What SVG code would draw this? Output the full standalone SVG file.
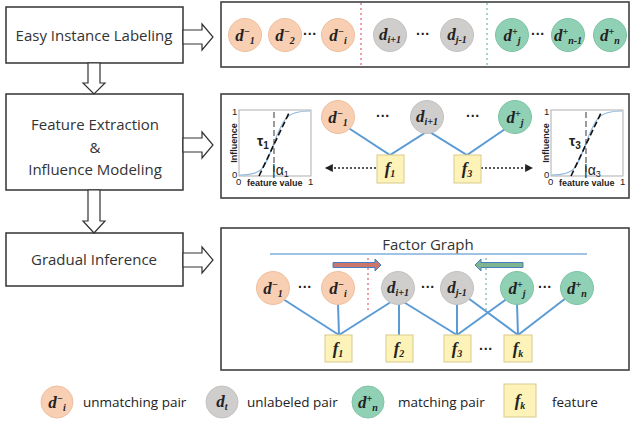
<svg xmlns="http://www.w3.org/2000/svg" width="633" height="424" viewBox="0 0 633 424">
<style>
.box{fill:#fff;stroke:#333;stroke-width:1.5}
.panel{fill:#fff;stroke:#404040;stroke-width:1.6}
.harrow{fill:#fff;stroke:#333;stroke-width:1.2}
.lbl{font-family:"Open Sans","Liberation Sans",sans-serif;font-size:15px;fill:#333}
.leg{font-family:"Open Sans","Liberation Sans",sans-serif;font-size:13.5px;fill:#222}
.neg{fill:#F8CFB2;stroke:#EFC0A0;stroke-width:1}
.unl{fill:#D0CECC;stroke:#C4C2C0;stroke-width:1}
.pos{fill:#90D1B5;stroke:#7FC3A5;stroke-width:1}
.fac{fill:#FDF2B8;stroke:#D9CB8C;stroke-width:1}
.m{font-family:"Liberation Serif","DejaVu Serif",serif;font-weight:bold;font-style:italic;font-size:17px;fill:#222;text-anchor:middle}
.s{font-size:10px}
.dots{font-family:"Liberation Sans",sans-serif;font-size:14px;font-weight:bold;fill:#222;text-anchor:middle}
.edge{stroke:#5B9BD5;stroke-width:2;fill:none}
.ax{font-family:"Liberation Sans",sans-serif;font-size:9px;font-weight:bold;fill:#222}
.axn{font-family:"Liberation Sans",sans-serif;font-size:9.5px;fill:#222}
.gk{font-family:"Liberation Sans",sans-serif;font-size:14px;fill:#222}
</style>
<defs>
<marker id="ah" viewBox="0 0 8 8" refX="7" refY="4" markerWidth="6" markerHeight="6" orient="auto"><path d="M0,0 L8,4 L0,8 z" fill="#222"/></marker>
<g id="chart">
<rect x="239" y="110" width="72" height="66" fill="#fff" stroke="#999" stroke-width="0.8"/>
<path d="M240,175 C262,175 264,170 274,143 C284,116 288,111 310,111" fill="none" stroke="#8DB8E0" stroke-width="1.2"/>
<line x1="274" y1="112" x2="274" y2="172" stroke="#666" stroke-width="1.3" stroke-dasharray="6,3"/>
<line x1="259" y1="176" x2="289" y2="113" stroke="#111" stroke-width="1.6" stroke-dasharray="6,3"/>
<text class="axn" x="232" y="115">1</text>
<text class="axn" x="232" y="178">0</text>
<text class="axn" x="236" y="185">0</text>
<text class="ax" x="247" y="186">feature value</text>
<text class="axn" x="308" y="185">1</text>
<text class="ax" transform="translate(237,143) rotate(-90)" text-anchor="middle">Influence</text>
</g>
</defs>

<!-- Left stage boxes -->
<g id="stage1">
<rect class="box" x="6" y="7" width="177" height="56"/>
<text class="lbl" x="94" y="41" text-anchor="middle">Easy Instance Labeling</text>
</g>
<g id="stage2">
<rect class="box" x="6" y="94" width="177" height="96"/>
<text class="lbl" x="95" y="130" text-anchor="middle">Feature Extraction</text>
<text class="lbl" x="95" y="153" text-anchor="middle">&amp;</text>
<text class="lbl" x="95" y="175" text-anchor="middle">Influence Modeling</text>
</g>
<g id="stage3">
<rect class="box" x="6" y="233" width="177" height="53"/>
<text class="lbl" x="94" y="265" text-anchor="middle">Gradual Inference</text>
</g>

<!-- hollow block arrows -->
<g id="stage-arrows">
<polygon class="harrow" points="183,30 202,30 202,24 213,37 202,50 202,44 183,44"/>
<polygon class="harrow" points="183,138 202,138 202,132 213,145 202,158 202,152 183,152"/>
<polygon class="harrow" points="183,253 202,253 202,247 213,260 202,273 202,267 183,267"/>
<polygon class="harrow" points="88,63 100,63 100,83 105,83 94,94 83,83 88,83"/>
<polygon class="harrow" points="88,190 100,190 100,221 105,221 94,233 83,221 88,221"/>
</g>

<!-- Panel 1 -->
<g id="panel1">
<rect class="panel" x="221" y="2" width="408" height="65"/>
<line x1="361" y1="3" x2="361" y2="66" stroke="#E06070" stroke-width="1.2" stroke-dasharray="2,3"/>
<line x1="487" y1="3" x2="487" y2="66" stroke="#6DBB90" stroke-width="1.2" stroke-dasharray="2,3"/>
<g id="p1-dneg1"><circle class="neg" cx="245" cy="35" r="16.5"/><text class="m" x="245" y="41">d<tspan class="s" dy="-6">−</tspan><tspan class="s" dy="9">1</tspan></text></g>
<g id="p1-dneg2"><circle class="neg" cx="285" cy="35" r="16.5"/><text class="m" x="285" y="41">d<tspan class="s" dy="-6">−</tspan><tspan class="s" dy="9">2</tspan></text></g>
<text class="dots" x="310" y="39">···</text>
<g id="p1-dnegi"><circle class="neg" cx="338" cy="35" r="16.5"/><text class="m" x="338" y="41">d<tspan class="s" dy="-6">−</tspan><tspan class="s" dy="9">i</tspan></text></g>
<g id="p1-di1"><circle class="unl" cx="390" cy="35" r="16.5"/><text class="m" x="390" y="40">d<tspan class="s" dy="3">i+1</tspan></text></g>
<text class="dots" x="423" y="39">···</text>
<g id="p1-dj1"><circle class="unl" cx="457" cy="35" r="16.5"/><text class="m" x="457" y="40">d<tspan class="s" dy="3">j-1</tspan></text></g>
<g id="p1-dposj"><circle class="pos" cx="512" cy="35" r="16.5"/><text class="m" x="512" y="41">d<tspan class="s" dy="-6">+</tspan><tspan class="s" dy="9">j</tspan></text></g>
<text class="dots" x="538" y="39">···</text>
<g id="p1-dposn1"><circle class="pos" cx="568" cy="35" r="16.5"/><text class="m" x="568" y="41">d<tspan class="s" dy="-6">+</tspan><tspan class="s" dy="9">n-1</tspan></text></g>
<g id="p1-dposn"><circle class="pos" cx="610" cy="35" r="16.5"/><text class="m" x="610" y="41">d<tspan class="s" dy="-6">+</tspan><tspan class="s" dy="9">n</tspan></text></g>
</g>

<!-- Panel 2 -->
<g id="panel2">
<rect class="panel" x="221" y="94" width="408" height="104"/>
<g id="chart1">
<use href="#chart"/>
<text class="gk" x="257" y="146" font-weight="bold">τ<tspan font-size="10" dy="3">1</tspan></text>
<text class="gk" x="272" y="175" font-size="12">|α<tspan font-size="9" dy="2">1</tspan></text>
</g>
<g id="chart3">
<use href="#chart" transform="translate(312,0)"/>
<text class="gk" x="569" y="146" font-weight="bold">τ<tspan font-size="10" dy="3">3</tspan></text>
<text class="gk" x="584" y="175" font-size="12">|α<tspan font-size="9" dy="2">3</tspan></text>
</g>
<g id="p2-edges">
<polyline class="edge" points="347,127 390,155 428,131 467,155 508,127"/>
<line x1="376" y1="168" x2="326" y2="168" stroke="#222" stroke-width="1.3" stroke-dasharray="2,2" marker-end="url(#ah)"/>
<line x1="481" y1="168" x2="532" y2="168" stroke="#222" stroke-width="1.3" stroke-dasharray="2,2" marker-end="url(#ah)"/>
</g>
<g id="p2-dneg1"><circle class="neg" cx="338" cy="117" r="16.5"/><text class="m" x="338" y="123">d<tspan class="s" dy="-6">−</tspan><tspan class="s" dy="9">1</tspan></text></g>
<text class="dots" x="383" y="121">···</text>
<g id="p2-di1"><circle class="unl" cx="427" cy="117" r="16.5"/><text class="m" x="427" y="122">d<tspan class="s" dy="3">i+1</tspan></text></g>
<text class="dots" x="473" y="121">···</text>
<g id="p2-dposj"><circle class="pos" cx="515" cy="117" r="16.5"/><text class="m" x="515" y="123">d<tspan class="s" dy="-6">+</tspan><tspan class="s" dy="9">j</tspan></text></g>
<g id="p2-f1"><rect class="fac" x="377" y="155" width="27" height="28"/><text class="m" x="390" y="174">f<tspan class="s" dy="3">1</tspan></text></g>
<g id="p2-f3"><rect class="fac" x="454" y="155" width="27" height="28"/><text class="m" x="467" y="174">f<tspan class="s" dy="3">3</tspan></text></g>
</g>

<!-- Panel 3 -->
<g id="panel3">
<rect class="panel" x="221" y="228" width="408" height="142"/>
<text class="lbl" x="428" y="250" text-anchor="middle" font-size="14">Factor Graph</text>
<line x1="270" y1="254" x2="587" y2="254" stroke="#7FAEDD" stroke-width="1.5"/>
<polygon points="333,262.5 375,262.5 375,259 381,265 375,271 375,267.5 333,267.5" fill="#C9776D" stroke="#4A7DC0" stroke-width="1"/>
<polygon points="523,262.5 481,262.5 481,259 475,265 481,271 481,267.5 523,267.5" fill="#7FB58E" stroke="#4A7DC0" stroke-width="1"/>
<line x1="368" y1="258" x2="368" y2="312" stroke="#E06070" stroke-width="1.2" stroke-dasharray="2,3"/>
<line x1="486" y1="258" x2="486" y2="312" stroke="#6DBB90" stroke-width="1.2" stroke-dasharray="2,3"/>
<g id="p3-edges">
<line class="edge" x1="283" y1="299" x2="339" y2="335"/>
<line class="edge" x1="338" y1="304" x2="339" y2="335"/>
<line class="edge" x1="339" y1="335" x2="394" y2="300"/>
<line class="edge" x1="399" y1="304" x2="399" y2="335"/>
<line class="edge" x1="402" y1="301" x2="457" y2="335"/>
<line class="edge" x1="457" y1="304" x2="457" y2="335"/>
<line class="edge" x1="508" y1="298" x2="457" y2="335"/>
<line class="edge" x1="468" y1="298" x2="518" y2="335"/>
<line class="edge" x1="517" y1="304" x2="518" y2="335"/>
<line class="edge" x1="566" y1="298" x2="518" y2="335"/>
</g>
<g id="p3-dneg1"><circle class="neg" cx="273" cy="288" r="16.5"/><text class="m" x="273" y="294">d<tspan class="s" dy="-6">−</tspan><tspan class="s" dy="9">1</tspan></text></g>
<text class="dots" x="305" y="292">···</text>
<g id="p3-dnegi"><circle class="neg" cx="338" cy="288" r="16.5"/><text class="m" x="338" y="294">d<tspan class="s" dy="-6">−</tspan><tspan class="s" dy="9">i</tspan></text></g>
<g id="p3-di1"><circle class="unl" cx="398" cy="288" r="16.5"/><text class="m" x="398" y="293">d<tspan class="s" dy="3">i+1</tspan></text></g>
<text class="dots" x="428" y="292">···</text>
<g id="p3-dj1"><circle class="unl" cx="457" cy="288" r="16.5"/><text class="m" x="457" y="293">d<tspan class="s" dy="3">j-1</tspan></text></g>
<g id="p3-dposj"><circle class="pos" cx="517" cy="288" r="16.5"/><text class="m" x="517" y="294">d<tspan class="s" dy="-6">+</tspan><tspan class="s" dy="9">j</tspan></text></g>
<text class="dots" x="545" y="292">···</text>
<g id="p3-dposn"><circle class="pos" cx="577" cy="288" r="16.5"/><text class="m" x="577" y="294">d<tspan class="s" dy="-6">+</tspan><tspan class="s" dy="9">n</tspan></text></g>
<g id="p3-f1"><rect class="fac" x="325" y="335" width="27" height="27"/><text class="m" x="338" y="354">f<tspan class="s" dy="3">1</tspan></text></g>
<g id="p3-f2"><rect class="fac" x="386" y="335" width="27" height="27"/><text class="m" x="399" y="354">f<tspan class="s" dy="3">2</tspan></text></g>
<g id="p3-f3"><rect class="fac" x="444" y="335" width="27" height="27"/><text class="m" x="457" y="354">f<tspan class="s" dy="3">3</tspan></text></g>
<text class="dots" x="486" y="354">···</text>
<g id="p3-fk"><rect class="fac" x="504" y="335" width="28" height="27"/><text class="m" x="518" y="354">f<tspan class="s" dy="3">k</tspan></text></g>
</g>

<!-- Legend -->
<g id="legend">
<g id="leg-neg"><circle class="neg" cx="57" cy="402" r="16"/><text class="m" x="57" y="408">d<tspan class="s" dy="-6">−</tspan><tspan class="s" dy="9">i</tspan></text><text class="leg" x="83" y="407">unmatching pair</text></g>
<g id="leg-unl"><circle class="unl" cx="222" cy="402" r="16"/><text class="m" x="222" y="407">d<tspan class="s" dy="3">t</tspan></text><text class="leg" x="247" y="407">unlabeled pair</text></g>
<g id="leg-pos"><circle class="pos" cx="368" cy="402" r="16"/><text class="m" x="368" y="408">d<tspan class="s" dy="-6">+</tspan><tspan class="s" dy="9">n</tspan></text><text class="leg" x="398" y="407">matching pair</text></g>
<g id="leg-fac"><rect class="fac" x="504" y="384" width="32" height="33"/><text class="m" x="520" y="406" font-size="19">f<tspan class="s" dy="3" font-size="12">k</tspan></text><text class="leg" x="552" y="407">feature</text></g>
</g>
</svg>
